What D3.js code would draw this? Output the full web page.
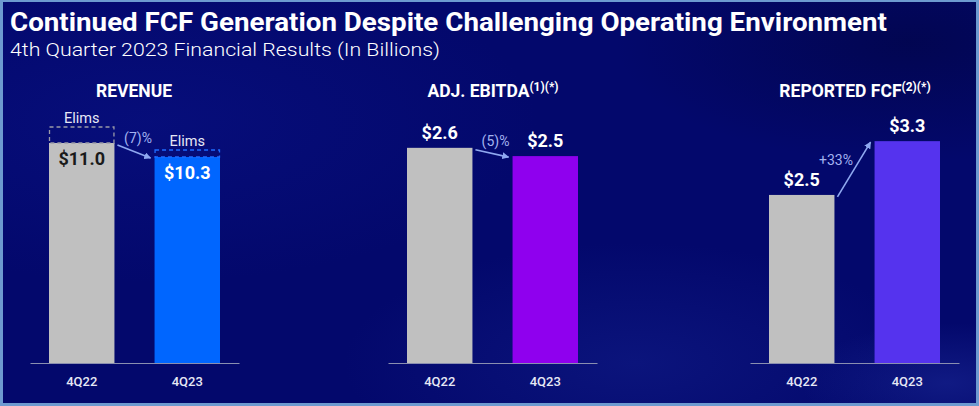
<!DOCTYPE html>
<html><head><meta charset="utf-8">
<script src="https://cdn.jsdelivr.net/npm/d3@7"></script>
<style>
html,body{margin:0;padding:0;background:#6d9ad0;}
svg{display:block;}
text{font-family:Roboto,"Liberation Sans",sans-serif;}
</style></head>
<body>
<svg id="c" width="979" height="406"></svg>
<script>
// ---- data ----
const quarters = ["4Q22", "4Q23"];
const revenueValues = [11.0, 10.3];
const revenueElims = [0.8, 0.35];
const ebitdaValues = [2.6, 2.5];
const fcfValues = [2.5, 3.3];
const revenueLabels = ["$11.0", "$10.3"];
const ebitdaLabels = ["$2.6", "$2.5"];
const fcfLabels = ["$2.5", "$3.3"];
const changeLabels = ["(7)%", "(5)%", "+33%"];
const panelTitles = ["REVENUE", "ADJ. EBITDA", "REPORTED FCF"];
const panelSups = ["", "(1)(*)", "(2)(*)"];
const title = "Continued FCF Generation Despite Challenging Operating Environment";
const subtitle = "4th Quarter 2023 Financial Results (In Billions)";

const svg = d3.select("#c");
const W = 979, H = 406;

// background
const defs = svg.append("defs");
function rg(id, cx, cy, r, col, op) {
  const g = defs.append("radialGradient").attr("id",id).attr("cx",cx).attr("cy",cy).attr("r",r);
  g.append("stop").attr("offset","0").attr("stop-color",col).attr("stop-opacity",op);
  g.append("stop").attr("offset","1").attr("stop-color",col).attr("stop-opacity",0);
}
rg("bg1","0.65","0.9","0.3","#1a2a9a",0.35);
rg("bg2","0.15","0.3","0.4","#0c1690",0.4);
rg("bg3","0.93","0.1","0.3","#010440",0.6);
rg("bg4","0.97","0.95","0.15","#2030a0",0.45);

svg.append("rect").attr("x",0).attr("y",0).attr("width",W).attr("height",H).attr("fill","#6d9ad0");
svg.append("rect").attr("x",3).attr("y",2).attr("width",W-6).attr("height",H-5).attr("fill","#03086c");
["bg1","bg2","bg3","bg4"].forEach(id=>{
  svg.append("rect").attr("x",3).attr("y",2).attr("width",W-6).attr("height",H-5).attr("fill",`url(#${id})`);
});

defs.append("marker").attr("id","arr").attr("viewBox","0 0 10 10").attr("refX",9).attr("refY",5)
  .attr("markerWidth",7).attr("markerHeight",7).attr("orient","auto-start-reverse").attr("markerUnits","userSpaceOnUse")
  .append("path").attr("d","M0,0 L10,5 L0,10 z").attr("fill","#8fa8f0");

// titles
svg.append("text").attr("x",10).attr("y",31).attr("fill","#ffffff")
  .attr("font-size",25).attr("font-weight",700).attr("textLength",877).attr("lengthAdjust","spacingAndGlyphs").text(title);
svg.append("text").attr("x",10).attr("y",56).attr("fill","#ffffff")
  .attr("font-size",19).attr("font-weight",300).attr("textLength",430).attr("lengthAdjust","spacingAndGlyphs").text(subtitle);

// panels layout
const panels = [
  {x0:30, values:revenueValues, labels:revenueLabels, colors:["#c0c0c0","#0066ff"], max:12.0, inside:true, titleX:134},
  {x0:388, values:ebitdaValues, labels:ebitdaLabels, colors:["#c0c0c0","#8f00ee"], max:2.9, inside:false, titleX:493},
  {x0:750, values:fcfValues, labels:fcfLabels, colors:["#c0c0c0","#5533ee"], max:3.57, inside:false, titleX:855}
];
const baseY = 363, topY = 123, PW = 209;
const labelOffsets = [[4,-9],[3.5,-7.5],[-18,-5]];

panels.forEach((p, i) => {
  const g = svg.append("g");
  const x = d3.scaleBand().domain(quarters).range([p.x0, p.x0 + PW]).paddingInner(0.38).paddingOuter(0.18);
  const y = d3.scaleLinear().domain([0, p.max]).range([baseY, topY]);

  // panel title
  const t = g.append("text").attr("x", p.titleX).attr("y", 97).attr("text-anchor","middle")
    .attr("fill","#ffffff").attr("font-size",17.5).attr("font-weight",700);
  t.append("tspan").text(panelTitles[i]);
  if (panelSups[i]) t.append("tspan").attr("font-size",12).attr("dy",-6).text(panelSups[i]);

  // bars
  g.selectAll("rect.bar").data(p.values).join("rect").attr("class","bar")
    .attr("x",(d,j)=>x(quarters[j])).attr("width",x.bandwidth())
    .attr("y",d=>y(d)).attr("height",d=>baseY-y(d)).attr("fill",(d,j)=>p.colors[j]);

  // elims (revenue)
  if (i === 0) {
    const ecol = ["#9a9aa8","#1f6bff"];
    g.selectAll("rect.elim").data(revenueElims).join("rect").attr("class","elim")
      .attr("x",(d,j)=>x(quarters[j])+0.5).attr("width",x.bandwidth()-1)
      .attr("y",(d,j)=>y(p.values[j]+d)).attr("height",(d,j)=>y(p.values[j])-y(p.values[j]+d))
      .attr("fill","none").attr("stroke",(d,j)=>ecol[j]).attr("stroke-width",1.3).attr("stroke-dasharray","4,3");
    g.selectAll("text.elimt").data(revenueElims).join("text").attr("class","elimt")
      .attr("x",(d,j)=>x(quarters[j])+x.bandwidth()/2).attr("y",(d,j)=>y(p.values[j]+d)-4)
      .attr("text-anchor","middle").attr("fill","#e6e8f5").attr("font-size",14.5).text("Elims");
  }

  // value labels
  g.selectAll("text.val").data(p.values).join("text").attr("class","val")
    .attr("x",(d,j)=>x(quarters[j])+x.bandwidth()/2)
    .attr("y",d=> p.inside ? y(d)+22 : y(d)-9)
    .attr("text-anchor","middle").attr("font-size",18).attr("font-weight",700)
    .attr("fill",(d,j)=> p.inside ? (j===0 ? "#1a1a1a" : "#ffffff") : "#ffffff")
    .text((d,j)=>p.labels[j]);

  // axis
  const ax = g.append("g").attr("transform",`translate(0,${baseY})`)
    .call(d3.axisBottom(x).tickSize(0).tickPadding(14).tickSizeOuter(0));
  ax.select(".domain").attr("stroke","#8a8fb0").attr("stroke-width",1.2);
  ax.selectAll("text").attr("fill","#e6e8f5").attr("font-size",13).attr("font-weight",500)
    .attr("font-family","Roboto,sans-serif");

  // arrow
  const sx = x(quarters[0]) + x.bandwidth() + 3, sy = y(p.values[0]) + 2;
  const ex = x(quarters[1]) - 4, ey = y(p.values[1]) + 1;
  g.append("line").attr("x1",sx).attr("y1",sy).attr("x2",ex).attr("y2",ey)
    .attr("stroke","#8fa8f0").attr("stroke-width",1.6).attr("marker-end","url(#arr)");
  g.append("text").attr("x",(sx+ex)/2 + labelOffsets[i][0]).attr("y",(sy+ey)/2 + labelOffsets[i][1])
    .attr("text-anchor","middle").attr("fill","#a3b3f0").attr("font-size",14).text(changeLabels[i]);
});
</script>
</body></html>
